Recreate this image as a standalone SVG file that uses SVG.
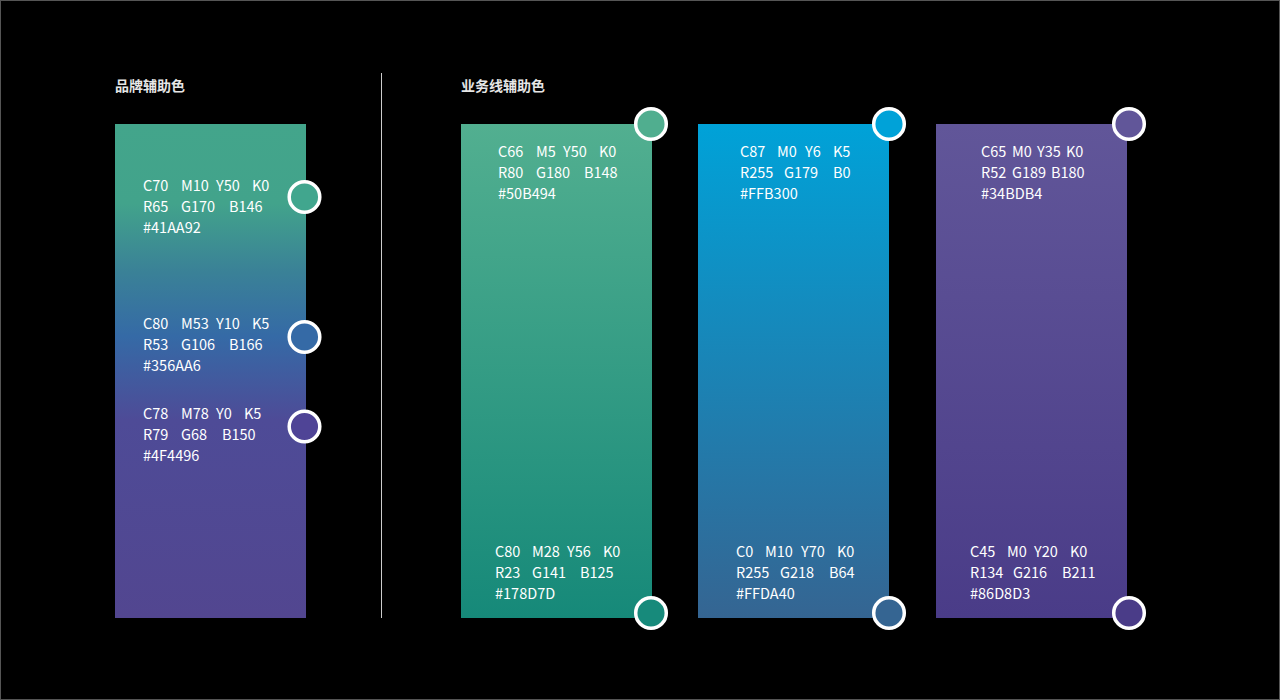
<svg xmlns="http://www.w3.org/2000/svg" width="1280" height="700" viewBox="0 0 1280 700">
<defs>
<linearGradient id="gBrand" x1="0" y1="0" x2="0" y2="1">
<stop offset="0" stop-color="#43A58B"/>
<stop offset="0.16" stop-color="#42A38B"/>
<stop offset="0.3" stop-color="#3A8197"/>
<stop offset="0.43" stop-color="#356AA6"/>
<stop offset="0.6" stop-color="#4E4B97"/>
<stop offset="1" stop-color="#524690"/>
</linearGradient>
<linearGradient id="gGreen" x1="0" y1="0" x2="0" y2="1">
<stop offset="0" stop-color="#52AF90"/>
<stop offset="1" stop-color="#168979"/>
</linearGradient>
<linearGradient id="gBlue" x1="0" y1="0" x2="0" y2="1">
<stop offset="0" stop-color="#00A2D8"/>
<stop offset="1" stop-color="#356592"/>
</linearGradient>
<linearGradient id="gPurple" x1="0" y1="0" x2="0" y2="1">
<stop offset="0" stop-color="#615699"/>
<stop offset="1" stop-color="#4A3C88"/>
</linearGradient>
</defs>
<style>
.title{font-family:"Noto Sans CJK SC","Noto Sans",sans-serif;font-size:14px;font-weight:bold;fill:#E6E6E6}
.t{font-family:"Noto Sans CJK SC","Noto Sans",sans-serif;font-size:14.5px;fill:#FFFFFF}
.dot{stroke:#FFFFFF;stroke-width:3.5}
</style>
<rect x="0" y="0" width="1280" height="700" fill="#000000"/>
<rect x="0.5" y="0.5" width="1279" height="699" fill="none" stroke="#555555" stroke-width="1"/>

<g id="titles">
<text class="title" x="115" y="91">品牌辅助色</text>
<text class="title" x="461" y="91">业务线辅助色</text>
</g>

<g id="connectors">
<line x1="381.5" y1="73" x2="381.5" y2="618" stroke="#CCCCCC" stroke-width="1"/>
</g>

<g id="brand-panel">
<rect x="115" y="124" width="191" height="494" fill="url(#gBrand)"/>
<circle class="dot" cx="304.5" cy="197" r="15.3" fill="#41A68E"/>
<circle class="dot" cx="304.5" cy="337" r="15.3" fill="#356AA6"/>
<circle class="dot" cx="304.5" cy="426.5" r="15.3" fill="#4F4496"/>
<text class="t" y="191"><tspan x="143">C70</tspan><tspan x="181">M10</tspan><tspan x="216">Y50</tspan><tspan x="252">K0</tspan></text>
<text class="t" y="212"><tspan x="143">R65</tspan><tspan x="181">G170</tspan><tspan x="229">B146</tspan></text>
<text class="t" x="143" y="233">#41AA92</text>
<text class="t" y="329"><tspan x="143">C80</tspan><tspan x="181">M53</tspan><tspan x="216">Y10</tspan><tspan x="252">K5</tspan></text>
<text class="t" y="350"><tspan x="143">R53</tspan><tspan x="181">G106</tspan><tspan x="229">B166</tspan></text>
<text class="t" x="143" y="371">#356AA6</text>
<text class="t" y="419"><tspan x="143">C78</tspan><tspan x="181">M78</tspan><tspan x="216">Y0</tspan><tspan x="244">K5</tspan></text>
<text class="t" y="440"><tspan x="143">R79</tspan><tspan x="181">G68</tspan><tspan x="222">B150</tspan></text>
<text class="t" x="143" y="461">#4F4496</text>
</g>

<g id="green-panel">
<rect x="461" y="124" width="191" height="494" fill="url(#gGreen)"/>
<circle class="dot" cx="651" cy="124" r="15.3" fill="#50AE8F"/>
<circle class="dot" cx="651" cy="613" r="15.3" fill="#178A7B"/>
<text class="t" y="157"><tspan x="498">C66</tspan><tspan x="536">M5</tspan><tspan x="563">Y50</tspan><tspan x="599">K0</tspan></text>
<text class="t" y="178"><tspan x="498">R80</tspan><tspan x="536">G180</tspan><tspan x="584">B148</tspan></text>
<text class="t" x="498" y="199">#50B494</text>
<text class="t" y="557"><tspan x="495">C80</tspan><tspan x="532">M28</tspan><tspan x="567">Y56</tspan><tspan x="603">K0</tspan></text>
<text class="t" y="578"><tspan x="495">R23</tspan><tspan x="532">G141</tspan><tspan x="580">B125</tspan></text>
<text class="t" x="495" y="599">#178D7D</text>
</g>

<g id="blue-panel">
<rect x="698" y="124" width="191" height="494" fill="url(#gBlue)"/>
<circle class="dot" cx="889" cy="124" r="15.3" fill="#00A2D8"/>
<circle class="dot" cx="889" cy="613" r="15.3" fill="#356592"/>
<text class="t" y="157"><tspan x="740">C87</tspan><tspan x="777">M0</tspan><tspan x="805">Y6</tspan><tspan x="833">K5</tspan></text>
<text class="t" y="178"><tspan x="740">R255</tspan><tspan x="784">G179</tspan><tspan x="833">B0</tspan></text>
<text class="t" x="740" y="199">#FFB300</text>
<text class="t" y="557"><tspan x="736">C0</tspan><tspan x="765">M10</tspan><tspan x="801">Y70</tspan><tspan x="837">K0</tspan></text>
<text class="t" y="578"><tspan x="736">R255</tspan><tspan x="780">G218</tspan><tspan x="829">B64</tspan></text>
<text class="t" x="736" y="599">#FFDA40</text>
</g>

<g id="purple-panel">
<rect x="936" y="124" width="191" height="494" fill="url(#gPurple)"/>
<circle class="dot" cx="1129" cy="124" r="15.3" fill="#615699"/>
<circle class="dot" cx="1129" cy="613" r="15.3" fill="#4A3C88"/>
<text class="t" y="157"><tspan x="981">C65</tspan><tspan x="1012">M0</tspan><tspan x="1037">Y35</tspan><tspan x="1066">K0</tspan></text>
<text class="t" y="178"><tspan x="981">R52</tspan><tspan x="1012">G189</tspan><tspan x="1051">B180</tspan></text>
<text class="t" x="981" y="199">#34BDB4</text>
<text class="t" y="557"><tspan x="970">C45</tspan><tspan x="1007">M0</tspan><tspan x="1034">Y20</tspan><tspan x="1070">K0</tspan></text>
<text class="t" y="578"><tspan x="970">R134</tspan><tspan x="1013">G216</tspan><tspan x="1062">B211</tspan></text>
<text class="t" x="970" y="599">#86D8D3</text>
</g>
</svg>
